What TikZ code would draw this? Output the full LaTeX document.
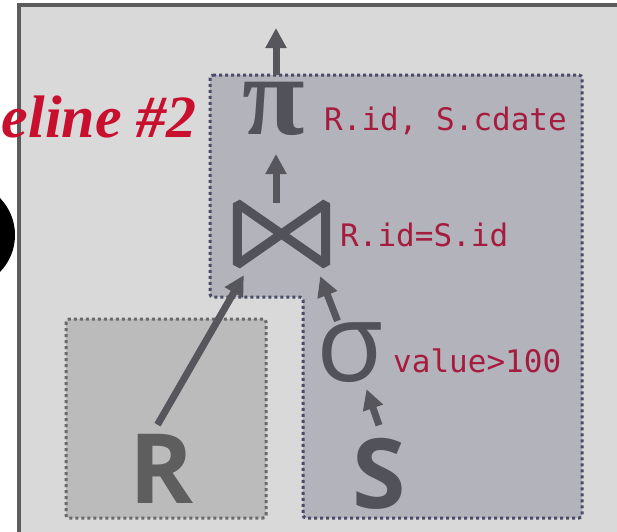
\documentclass[tikz,border=0pt]{standalone}
\usepackage{fontspec}
\setmainfont{Open Sans}
\newfontfamily\monofont{DejaVu Sans Mono}
\newfontfamily\titlefont{Liberation Serif}
\usetikzlibrary{arrows.meta}
\definecolor{bg1}{RGB}{217, 217, 217}
\definecolor{frame1}{RGB}{92, 92, 92}
\definecolor{pipe1}{RGB}{179, 179, 187}
\definecolor{pipeedge}{RGB}{74, 74, 106}
\definecolor{rbox1}{RGB}{187, 187, 187}
\definecolor{rboxedge}{RGB}{106, 106, 106}
\definecolor{op1}{RGB}{82, 82, 91}
\definecolor{rel1}{RGB}{94, 94, 94}
\definecolor{red1}{RGB}{200, 16, 46}
\definecolor{red2}{RGB}{166, 28, 62}
\definecolor{arrow1}{RGB}{86, 86, 92}

\tikzset{
  op/.style={inner sep=0pt, text=op1, font=\fontsize{110}{110}\selectfont},
  rel/.style={inner sep=0pt, font=\bfseries\fontsize{97}{97}\selectfont},
  lbl/.style={inner sep=0pt, anchor=base west, text=red2, font=\monofont\fontsize{31}{31}\selectfont},
  flow/.style={draw=arrow1, line width=7pt, -{Triangle[width=20pt,length=20pt]}},
  dots/.style={line width=3pt, dash pattern=on 3pt off 3pt, rounded corners=3pt},
}

\begin{document}
\begin{tikzpicture}[x=1pt, y=-1pt]
 \useasboundingbox (0,0) rectangle (617,531);
 \clip (0,0) rectangle (617,531);
 \fill[black] (-38,235) circle (53pt);
 \draw[line width=4pt, draw=frame1, fill=bg1] (19,5) rectangle (660,580);

 % pipeline boxes
 \draw[dots, draw=rboxedge, fill=rbox1] (66,319) rectangle (266,518);
 \coordinate (pipetop) at (210,75);
 \draw[dots, draw=pipeedge, fill=pipe1] (pipetop) -- (582,75) -- (582,518) -- (303,518)
   -- (303,297) -- (210,297) -- cycle;

 \node[anchor=base east, inner sep=0pt, text=red1,
   font=\titlefont\bfseries\itshape\fontsize{60}{60}\selectfont] (title) at (197,137) {eline \#2};

  \node[op, font=\titlefont\bfseries\fontsize{114}{114}\selectfont] (pi) at (274,108.5) {π};
  \node[minimum width=88pt, minimum height=61pt, inner sep=0pt] (join) at (281.5,234) {};
  \draw[draw=op1, line width=9pt, line join=bevel]
    (join.north west) -- (join.south west) -- (join.north east) -- (join.south east) -- cycle;
  \node[op] (sigma) at (350.5,353) {σ};
  \node[rel, text=rel1] (R) at (161.5,468.5) {R};
  \node[rel, text=op1] (S) at (379,474) {S};

  \node[lbl] (proj) at (324,130) {R.id, S.cdate};
  \node[lbl] (cond) at (340,246) {R.id=S.id};
  \node[lbl] (pred) at (393,372) {value>100};

  \coordinate (out) at (276,28);
  \draw[flow] (out |- pipetop) -- (out);
  \draw[flow] (out |- join.north) -- (out |- 0,154);
  \draw[flow] ([xshift=-4pt,yshift=9pt]R.north) -- ([xshift=6.5pt,yshift=-10.5pt]join.south west);
  \draw[flow] ([xshift=-13pt,yshift=2pt]sigma.north) -- ([xshift=-5.5pt,yshift=-11.5pt]join.south east);
  \draw[flow] ([yshift=13pt]S.north) -- ([xshift=16pt,yshift=-6pt]sigma.south);
\end{tikzpicture}
\end{document}
